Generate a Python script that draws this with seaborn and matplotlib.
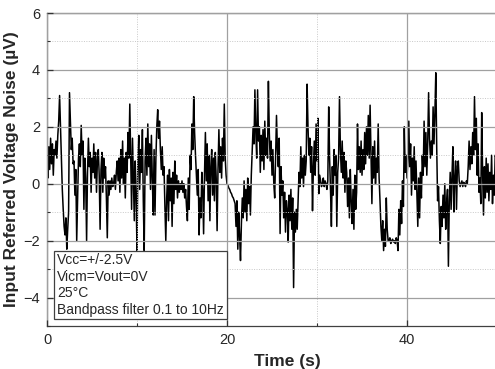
import numpy as np
import pandas as pd
import matplotlib
matplotlib.use("Agg")
import matplotlib.pyplot as plt
import seaborn as sns
from matplotlib.ticker import MultipleLocator

# noise trace, 0.1 s per sample, one row per second
noise_uv = [
    0.8, 0.2, 1.3, 0.5, 1.6, 0.7, 1.4, 0.3, 1.2, 1.0,
    1.5, 0.9, 1.7, 2.2, 3.1, 2.0, 0.8, -0.2, -0.9, -1.5,
    -1.8, -1.2, -2.3, -1.6, -1.0, 3.2, 2.2, 1.2, 1.6, 0.7,
    0.8, -0.4, 0.5, -2.0, -0.5, 0.9, 1.4, 0.6, 2.05, 1.0,
    1.5, -0.9, 0.9, 0.2, -2.0, 0.4, 1.6, 0.6, 1.1, -0.3,
    0.9, 0.4, 1.4, 0.2, 1.1, -0.3, 0.8, 1.2, 0.3, -1.6,
    0.5, 1.1, -0.3, 0.9, 0.2, 0.6, -0.5, -1.9, 0.1, -0.4,
    0.1, -0.2, 0.2, -0.1, 0.0, 0.3, -0.2, 0.4, 0.8, 0.1,
    0.9, -0.3, 1.2, 0.2, 1.5, 0.0, 0.9, -0.5, 1.1, 0.4,
    1.8, 0.9, 2.8, 1.0, -0.9, 1.6, 0.2, -1.3, 0.8, -0.4,
    -2.35, 0.9, 1.7, -0.2, 1.2, 0.4, 1.9, -0.6, -2.35, 0.8,
    1.6, 0.3, 2.1, 0.6, 1.4, -0.2, 1.7, 0.2, -1.1, 1.2,
    -1.1, 0.9, 2.0, 2.6, 1.6, 2.2, 1.2, 0.5, 1.3, 0.3,
    0.6, -0.8, -2.0, -0.5, 0.3, -1.3, 0.5, -0.6, 0.2, -1.5,
    0.4, -0.7, 0.8, -0.2, 0.3, -0.5, 0.1, -0.3, 0.0, -0.2,
    0.1, -0.3, 0.0, -0.5, -0.2, -0.8, -1.3, 0.2, -0.9, 1.0,
    0.5, 2.1, 1.2, 3.06, 1.8, 1.0, 0.3, -0.4, 0.5, -1.8,
    -0.5, -1.2, 0.4, -0.2, -1.76, 0.3, 1.8, 0.1, 1.4, -0.6,
    1.0, -1.3, 0.6, 1.2, -0.4, 0.9, -0.6, 1.1, 0.2, -1.65,
    0.5, 1.9, 0.4, 1.3, 0.2, 1.6, 0.8, 2.8, 0.9, 0.3,
    0.0, -0.05, -0.15, -0.2, -0.3, -0.35, -0.45, -0.5, -0.6, -0.7,
    -1.5, -0.6, -2.3, -1.0, -1.8, -2.7, -1.4, -0.5, -1.2, 0.1,
    -1.0, -0.2, -1.3, 0.2, -0.7, -0.1, -1.1, 0.3, 1.2, 2.0,
    1.4, 3.3, 1.8, 0.9, 3.3, 1.5, 2.0, 0.4, 1.7, 0.8,
    1.9, 0.5, 2.2, 1.0, 1.6, 0.9, 3.6, 1.8, 0.8, 1.5,
    0.3, 1.2, 0.0, -0.5, 1.0, 2.4, 1.2, 0.6, 1.6, -1.75,
    0.6, -0.4, 0.1, -1.2, -0.3, -1.7, -0.6, -0.9, -2.05, -0.4,
    -1.3, -0.2, -1.6, -0.5, -3.65, -1.0, -1.7, -0.9, -1.6, -0.6,
    0.4, -0.1, 1.3, 0.2, 0.9, -0.1, 1.0, 0.3, 0.8, 3.5,
    2.0, 1.0, 1.6, 0.4, 1.3, -0.95, 0.6, 1.5, 0.3, 2.1,
    0.8, 2.3, -0.35, 0.3, 0.1, -0.1, 0.0, 0.2, -0.1, 0.1,
    0.0, -0.2, 0.1, 2.7, 0.9, -0.2, -1.5, 0.6, -0.4, 1.2,
    0.3, 1.0, -1.5, 0.4, 0.9, 3.06, 1.2, 0.4, 1.5, 0.2,
    1.1, -0.3, 0.8, 0.4, -0.8, 0.2, -1.2, 0.5, -0.6, -1.4,
    -0.2, -1.6, 0.3, -0.9, -0.3, 2.1, 0.5, 1.3, 0.4, 1.5,
    0.3, 1.2, 0.5, 1.8, 0.7, 2.0, 1.0, 2.4, 0.9, 2.76,
    1.0, -0.7, 1.3, 0.2, 1.5, 0.0, 0.9, 0.4, 2.1, 0.2,
    -0.6, -1.5, -2.0, -1.3, -2.35, -1.6, -2.2, -0.5, -1.6, -2.0,
    -2.0, -1.9, -2.1, -2.0, -1.95, -2.05, -2.0, -2.1, -1.9, -2.0,
    -2.35, -0.9, -1.8, -0.6, -1.4, 0.1, -0.8, 2.0, 0.4, 1.0,
    0.2, 0.9, 2.2, 0.6, 1.4, -0.4, 0.9, 0.1, 1.3, -0.2,
    0.8, -0.3, -1.5, 0.2, -1.2, 0.4, -0.5, 1.0, 0.3, 2.2,
    0.6, 1.8, 0.3, 1.4, 3.2, 1.6, 0.9, 1.5, 1.0, 2.7,
    1.4, 2.5, 3.9, 1.3, -0.6, -0.1, -1.3, -2.1, -0.8, -1.5,
    -0.4, -1.2, 0.0, -1.6, -0.7, -0.2, -2.9, -0.6, 0.4, -0.9,
    0.3, 1.3, -1.0, 0.2, 0.8, -0.9, 0.6, 0.8, 0.1, -0.1,
    0.0, 0.1, -0.1, 0.05, 0.0, -0.1, 0.1, 0.0, 0.6, 1.5,
    0.5, 1.3, 0.7, 1.8, 1.0, 3.06, 1.2, 2.3, 0.3, 1.4,
    -0.3, 0.2, -0.7, 2.5, 0.4, -1.1, 0.6, -0.5, 0.9, -0.3,
    0.7, -0.6, 0.4, -0.2, 1.0, -0.7, 0.3, -0.4, 1.0, 0.9,
]
sample_step_s = 0.1

note_lines = ["Vcc=+/-2.5V", "Vicm=Vout=0V", "25°C", "Bandpass filter 0.1 to 10Hz"]

df = pd.DataFrame({
    "time": np.arange(len(noise_uv)) * sample_step_s,
    "noise": noise_uv,
})

sns.set_style("white")
plt.rcParams["font.family"] = ["Liberation Sans", "DejaVu Sans"]

fig = plt.figure(figsize=(4.95, 3.69), dpi=100)
# the original frame runs past the right edge of the picture
ax = fig.add_axes([47 / 495, 1 - 326 / 369, 480 / 495, (326 - 13) / 369])

sns.lineplot(data=df, x="time", y="noise", ax=ax, color="black", lw=1.1,
             estimator=None, sort=False)

ax.set_xlim(0, 480 / 9)
ax.set_ylim(-5, 6)
ax.xaxis.set_major_locator(MultipleLocator(20))
ax.xaxis.set_minor_locator(MultipleLocator(10))
ax.yaxis.set_major_locator(MultipleLocator(2))
ax.yaxis.set_minor_locator(MultipleLocator(1))

# grid sits on top of the trace, as in the original
ax.set_axisbelow(False)
ax.grid(which="major", color="#a0a0a0", lw=0.9, ls="-")
ax.grid(which="minor", color="#c8c8c8", lw=0.7, ls=(0, (1, 1.5)))

ax.tick_params(which="both", direction="in", left=True, bottom=True,
               top=False, right=False, color="#333333")
ax.tick_params(which="major", length=4, width=0.9, labelsize=10.5, pad=5)
ax.tick_params(which="minor", length=2.5, width=0.8)

for side in ["left", "bottom", "top"]:
    ax.spines[side].set_color("#404040")
    ax.spines[side].set_linewidth(0.9)
ax.spines["right"].set_visible(False)

ax.set_xlabel("Time (s)", fontsize=12.5, fontweight="bold", labelpad=5)
ax.set_ylabel("Input Referred Voltage Noise (µV)", fontsize=12.5,
              fontweight="bold", labelpad=3)

ax.text(0.021, 0.03, "\n".join(note_lines), transform=ax.transAxes,
        fontsize=10, va="bottom", ha="left", linespacing=1.22, zorder=5,
        bbox=dict(boxstyle="square,pad=0.2", fc="white", ec="#404040", lw=0.9))

plt.savefig("out.png", dpi=100)
